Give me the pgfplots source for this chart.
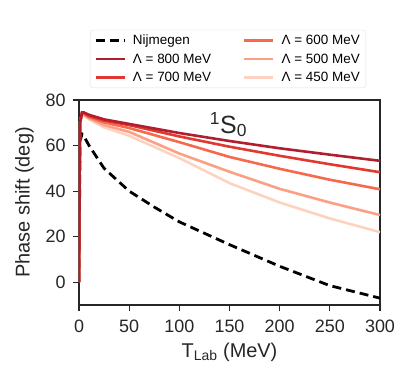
\documentclass[border=0pt]{standalone}
\usepackage{fontspec}
\setmainfont{Liberation Sans}
\usepackage{pgfplots}
\pgfplotsset{compat=1.18}

\definecolor{axgray}{HTML}{262626}
\definecolor{cA}{HTML}{B11E2D}% 800
\definecolor{cB}{HTML}{E2382F}% 700
\definecolor{cC}{HTML}{F6694D}% 600
\definecolor{cD}{HTML}{FCA083}% 500
\definecolor{cE}{HTML}{FDD2C0}% 450

\begin{document}
\begin{tikzpicture}
\useasboundingbox (-79bp,-80bp) rectangle (336bp,305bp);
\begin{axis}[
    at={(0,0)}, anchor=south west,
    scale only axis, width=301bp, height=205bp,
    xmin=0, xmax=300, ymin=-10, ymax=80,
    xtick={0,50,...,300}, ytick={0,20,...,80},
    tick align=outside, xtick pos=left, ytick pos=left,
    major tick length=6bp,
    axis line style={draw=axgray, line width=1.2bp},
    tick style={draw=axgray, line width=1.2bp},
    ticklabel style={font=\fontsize{18}{20}\selectfont, text=axgray},
    xticklabel style={yshift=-5bp},
    yticklabel style={xshift=-4bp},
    /pgf/number format/assume math mode=true,
    label style={font=\fontsize{20}{22}\selectfont, text=axgray},
    xlabel style={yshift=-4bp},
    ylabel style={yshift=5bp},
    xlabel={T\textsubscript{Lab} (MeV)},
    ylabel={Phase shift (deg)},
    legend style={at={(0.495,1.058)}, anchor=south, draw=gray!25,
        rounded corners=3bp, font=\fontsize{13.5}{16}\selectfont,
        inner xsep=4bp, inner ysep=3bp, row sep=3.5bp,
        /tikz/every even column/.append style={column sep=30bp}},
    legend columns=2, legend cell align=left,
    legend image code/.code={\draw[#1] (0bp,0bp) -- (29bp,0bp); \path (34bp,0bp);},
]
% legend in matplotlib column order
\addlegendimage{black, line width=2.8bp, dash pattern=on 9bp off 5bp}
\addlegendentry{Nijmegen}
\addlegendimage{cC, line width=2.6bp}
\addlegendentry{Λ = 600 MeV}
\addlegendimage{cA, line width=2.6bp}
\addlegendentry{Λ = 800 MeV}
\addlegendimage{cD, line width=2.6bp}
\addlegendentry{Λ = 500 MeV}
\addlegendimage{cB, line width=2.6bp}
\addlegendentry{Λ = 700 MeV}
\addlegendimage{cE, line width=2.6bp}
\addlegendentry{Λ = 450 MeV}

\addplot[black, line width=2.8bp, dash pattern=on 9bp off 5bp, forget plot] coordinates {
(0,0) (1,62) (3,65) (5,64) (10,60) (25,50) (50,40) (75,33) (100,26.5)
(150,16.5) (200,7) (250,-1.5) (300,-7)};

\addplot[cE, line width=2.6bp, forget plot] coordinates {
(0,0) (1,70) (3,73.8) (5,73.2) (10,71.5) (25,68) (50,64.3) (100,54.5)
(150,43.5) (200,35) (250,28) (300,22)};
\addplot[cD, line width=2.6bp, forget plot] coordinates {
(0,0) (1,70) (3,74) (5,73.5) (10,72) (25,69) (50,66) (100,56.5)
(150,48.5) (200,41) (250,35) (300,29.5)};
\addplot[cC, line width=2.6bp, forget plot] coordinates {
(0,0) (1,70) (3,74.3) (5,74) (10,72.5) (25,70.2) (50,67.7) (100,61.5)
(150,55) (200,49.8) (250,45) (300,40.8)};
\addplot[cB, line width=2.6bp, forget plot] coordinates {
(0,0) (1,70) (3,74.5) (5,74.3) (10,73) (25,71) (50,69) (100,64)
(150,59.5) (200,55.5) (250,51.8) (300,48.3)};
\addplot[cA, line width=2.6bp, forget plot] coordinates {
(0,0) (1,70) (3,74.5) (5,74.5) (10,73.5) (25,71.5) (50,69.5) (100,65.5)
(150,62) (200,58.8) (250,56) (300,53.3)};

\node[anchor=base west, font=\fontsize{25}{28}\selectfont, text=axgray]
    at (axis cs:127,65.5) {\textsuperscript{1}S\textsubscript{0}};
\end{axis}
\end{tikzpicture}
\end{document}
